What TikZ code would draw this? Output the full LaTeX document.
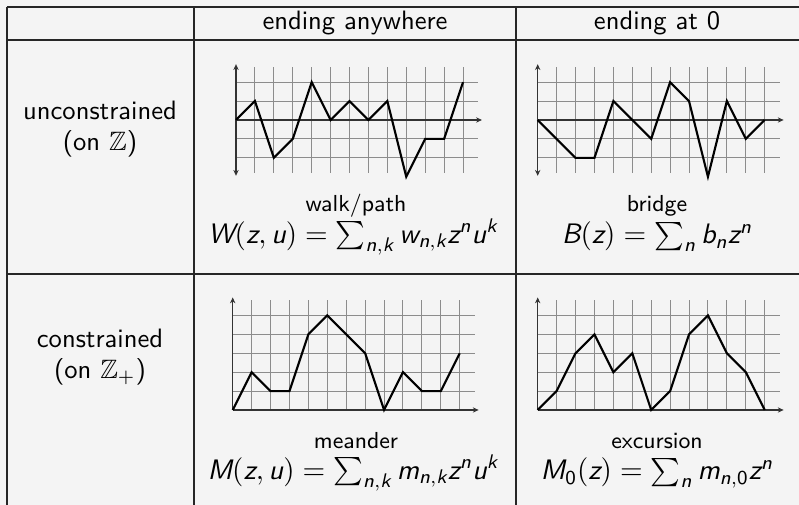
\documentclass[tikz,border=0pt]{standalone}
\usepackage{amsmath,amssymb}
\usetikzlibrary{arrows.meta}
\DeclareMathAlphabet{\msi}{TU}{lmss}{m}{sl}
\DeclareMathAlphabet{\msu}{TU}{lmss}{m}{n}
\definecolor{bgc}{HTML}{F4F4F4}
\tikzset{
  rule/.style={line width=0.5pt, black!85},
  gridln/.style={line width=0.35pt, black!45},
  axis/.style={line width=0.45pt, black!80, -{Stealth[length=2.2pt,width=2pt]}},
  axisb/.style={line width=0.45pt, black!80, {Stealth[length=2.2pt,width=2pt]}-{Stealth[length=2.2pt,width=2pt]}},
  walk/.style={line width=0.8pt, black, line join=miter},
  hdr/.style={font=\sffamily\fontsize{10}{11.7}\selectfont, inner sep=0pt},
  captxt/.style={font=\sffamily\fontsize{8.7}{10}\selectfont, inner sep=0pt},
  fml/.style={font=\sffamily\fontsize{10.6}{12}\selectfont, inner sep=0pt},
}
\begin{document}
\begin{tikzpicture}[x=0.376pt,y=-0.376pt]
\fill[bgc] (0,0) rectangle (799,505);
\useasboundingbox (0,0) rectangle (799,505);
% table rules
\coordinate (tl) at (7,7);
\coordinate (tr) at (799,7);
\coordinate (hl) at (7,40);
\coordinate (hr) at (799,40);
\coordinate (rl) at (7,274);
\coordinate (rr) at (799,274);
\coordinate (bl) at (7,505);
\coordinate (c1t) at (194,7);
\coordinate (c1b) at (194,505);
\coordinate (c2t) at (516,7);
\coordinate (c2b) at (516,505);
\draw[rule] (tl) -- (tr);
\draw[rule] (hl) -- (hr);
\draw[rule] (rl) -- (rr);
\draw[rule] (tl) -- (bl);
\draw[rule] (c1t) -- (c1b);
\draw[rule] (c2t) -- (c2b);
% headers
\node[hdr] (h1) at (355,23) {ending anywhere};
\node[hdr] (h2) at (657,23) {ending at 0};
\node[hdr, align=center] (l1) at (100,129) {unconstrained\\(on $\mathbb{Z}$)};
\node[hdr, align=center] (l2) at (100,357) {constrained\\(on $\mathbb{Z}_{+}$)};
% grid 1: walk
\begin{scope}[shift={(236,120)}, x=0.25cm, y=0.25cm]
  \foreach \i in {1,...,12} \draw[gridln] (\i,-2.8) -- (\i,2.8);
  \foreach \j in {-2,-1,1,2} \draw[gridln] (0,\j) -- (12.8,\j);
  \draw[axis] (0,0) -- (13,0);
  \draw[axisb] (0,-2.95) -- (0,2.95);
  \draw[walk] (0,0) -- (1,1) -- (2,-2) -- (3,-1) -- (4,2) -- (5,0) -- (6,1) -- (7,0) -- (8,1) -- (9,-3) -- (10,-1) -- (11,-1) -- (12,2);
\end{scope}
% grid 2: bridge
\begin{scope}[shift={(537.7,120)}, x=0.25cm, y=0.25cm]
  \foreach \i in {1,...,12} \draw[gridln] (\i,-2.8) -- (\i,2.8);
  \foreach \j in {-2,-1,1,2} \draw[gridln] (0,\j) -- (12.8,\j);
  \draw[axis] (0,0) -- (13,0);
  \draw[axisb] (0,-2.95) -- (0,2.95);
  \draw[walk] (0,0) -- (2,-2) -- (3,-2) -- (4,1) -- (6,-1) -- (7,2) -- (8,1) -- (9,-3) -- (10,1) -- (11,-1) -- (12,0);
\end{scope}
% grid 3: meander
\begin{scope}[shift={(232.7,410)}, x=0.25cm, y=0.25cm]
  \foreach \i in {1,...,12} \draw[gridln] (\i,0) -- (\i,5.8);
  \foreach \j in {1,...,5} \draw[gridln] (0,\j) -- (12.8,\j);
  \draw[axis] (0,0) -- (13,0);
  \draw[axis] (0,0) -- (0,5.95);
  \draw[walk] (0,0) -- (1,2) -- (2,1) -- (3,1) -- (4,4) -- (5,5) -- (6,4) -- (7,3) -- (8,0) -- (9,2) -- (10,1) -- (11,1) -- (12,3);
\end{scope}
% grid 4: excursion
\begin{scope}[shift={(537.7,410)}, x=0.25cm, y=0.25cm]
  \foreach \i in {1,...,12} \draw[gridln] (\i,0) -- (\i,5.8);
  \foreach \j in {1,...,5} \draw[gridln] (0,\j) -- (12.8,\j);
  \draw[axis] (0,0) -- (13,0);
  \draw[axis] (0,0) -- (0,5.95);
  \draw[walk] (0,0) -- (1,1) -- (2,3) -- (3,4) -- (4,2) -- (5,3) -- (6,0) -- (7,1) -- (8,4) -- (9,5) -- (10,3) -- (11,2) -- (12,0);
\end{scope}
% captions
\node[captxt] (t1) at (356,206) {walk/path};
\node[fml] (f1) at (353,237) {$\msi{W}(\msi{z},\msi{u})=\sum_{\msi{n},\msi{k}}\msi{w}_{\msi{n},\msi{k}}\msi{z}^{\msi{n}}\msi{u}^{\msi{k}}$};
\node[captxt] (t2) at (657,206) {bridge};
\node[fml] (f2) at (657,237) {$\msi{B}(\msi{z})=\sum_{\msi{n}}\msi{b}_{\msi{n}}\msi{z}^{\msi{n}}$};
\node[captxt] (t3) at (356,441) {meander};
\node[fml] (f3) at (353,473) {$\msi{M}(\msi{z},\msi{u})=\sum_{\msi{n},\msi{k}}\msi{m}_{\msi{n},\msi{k}}\msi{z}^{\msi{n}}\msi{u}^{\msi{k}}$};
\node[captxt] (t4) at (657,441) {excursion};
\node[fml] (f4) at (657,473) {$\msi{M}_{\msu{0}}(\msi{z})=\sum_{\msi{n}}\msi{m}_{\msi{n},\msu{0}}\msi{z}^{\msi{n}}$};
\end{tikzpicture}
\end{document}
